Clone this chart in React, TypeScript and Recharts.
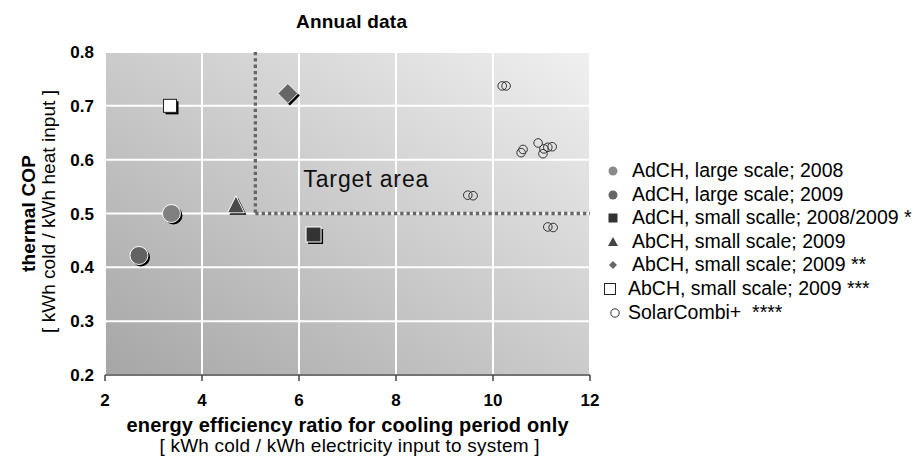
import React from 'react'
import { ScatterChart, Scatter, XAxis, YAxis, CartesianGrid, ReferenceLine, ReferenceArea, Legend, Label } from 'recharts'

const FONT = '"Liberation Sans", Arial, Helvetica, sans-serif'

const xTicks = [2, 4, 6, 8, 10, 12]
const yTicks = [0.2, 0.3, 0.4, 0.5, 0.6, 0.7, 0.8]

const seriesNames = [
  'AdCH, large scale; 2008',
  'AdCH, large scale; 2009',
  'AdCH, small scalle; 2008/2009 *',
  'AbCH, small scale; 2009',
  'AbCH, small scale; 2009 **',
  'AbCH, small scale; 2009 ***',
  'SolarCombi+  ****',
]

const adchLarge2008 = [{ x: 3.37, y: 0.5 }]
const adchLarge2009 = [{ x: 2.7, y: 0.422 }]
const adchSmall = [{ x: 6.3, y: 0.461 }]
const abchSmall2009 = [{ x: 4.7, y: 0.517 }]
const abchSmall2009b = [{ x: 5.77, y: 0.723 }]
const abchSmall2009c = [{ x: 3.34, y: 0.7 }]
const solarCombi = [
  { x: 10.19, y: 0.737 },
  { x: 10.27, y: 0.737 },
  { x: 10.58, y: 0.613 },
  { x: 10.62, y: 0.619 },
  { x: 10.93, y: 0.631 },
  { x: 11.05, y: 0.62 },
  { x: 11.03, y: 0.611 },
  { x: 11.13, y: 0.623 },
  { x: 11.22, y: 0.624 },
  { x: 9.48, y: 0.534 },
  { x: 9.59, y: 0.533 },
  { x: 11.13, y: 0.475 },
  { x: 11.24, y: 0.474 },
]

// target area corner
const targetX = 5.1
const targetY = 0.5

const circle = (fill: string, r: number) => (p: any) => (
  <g>
    <circle cx={p.cx + 2} cy={p.cy + 2} r={r} fill="#000" />
    <circle cx={p.cx} cy={p.cy} r={r} fill={fill} stroke="#fff" strokeWidth={1} />
  </g>
)

const square = (fill: string, stroke: string, s: number) => (p: any) => (
  <g>
    <rect x={p.cx - s / 2 + 2} y={p.cy - s / 2 + 2} width={s} height={s} fill="#000" />
    <rect x={p.cx - s / 2} y={p.cy - s / 2} width={s} height={s} fill={fill} stroke={stroke} strokeWidth={1} />
  </g>
)

const triangle = (fill: string, s: number) => (p: any) => {
  const pts = (dx: number, dy: number) =>
    `${p.cx + dx},${p.cy - s / 2 + dy} ${p.cx + s / 2 + dx},${p.cy + s / 2 + dy} ${p.cx - s / 2 + dx},${p.cy + s / 2 + dy}`
  return (
    <g>
      <polygon points={pts(2, 2)} fill="#000" />
      <polygon points={pts(0, 0)} fill={fill} stroke="#fff" strokeWidth={1} />
    </g>
  )
}

const diamond = (fill: string, h: number) => (p: any) => {
  const pts = (dx: number, dy: number) =>
    `${p.cx + dx},${p.cy - h + dy} ${p.cx + h + dx},${p.cy + dy} ${p.cx + dx},${p.cy + h + dy} ${p.cx - h + dx},${p.cy + dy}`
  return (
    <g>
      <polygon points={pts(2, 2)} fill="#000" />
      <polygon points={pts(0, 0)} fill={fill} stroke="#fff" strokeWidth={1} />
    </g>
  )
}

const openCircle = (p: any) => <circle cx={p.cx} cy={p.cy} r={4.3} fill="none" stroke="#333" strokeWidth={1} />

const legendIcons: Record<string, { w: number; icon: React.ReactNode }> = {
  [seriesNames[0]]: { w: 29, icon: <circle cx={10} cy={12} r={4.5} fill="#8a8a8a" /> },
  [seriesNames[1]]: { w: 29, icon: <circle cx={10} cy={12} r={4.5} fill="#666" /> },
  [seriesNames[2]]: { w: 29, icon: <rect x={5.5} y={7.5} width={9} height={9} fill="#333" /> },
  [seriesNames[3]]: { w: 29, icon: <polygon points="10,7 15,16 5,16" fill="#444" /> },
  [seriesNames[4]]: { w: 29, icon: <polygon points="10,8 14,12 10,16 6,12" fill="#666" /> },
  [seriesNames[5]]: { w: 25, icon: <rect x={1.5} y={6.5} width={11} height={11} fill="#fff" stroke="#222" strokeWidth={1} /> },
  [seriesNames[6]]: { w: 25, icon: <circle cx={12} cy={12} r={4.2} fill="#fff" stroke="#333" strokeWidth={1} /> },
}

function LegendBox({ payload }: any) {
  const items = [...(payload || [])].sort((a: any, b: any) => seriesNames.indexOf(a.value) - seriesNames.indexOf(b.value))
  return (
    <div style={{ fontFamily: FONT, fontSize: 19.5, color: '#000' }}>
      {items.map((e: any) => {
        const item = legendIcons[e.value]
        return (
          <div key={e.value} style={{ display: 'flex', alignItems: 'center', height: 23.6, lineHeight: '23.6px', whiteSpace: 'pre' }}>
            <svg width={item.w} height={23.6} style={{ flex: 'none' }}>
              {item.icon}
            </svg>
            <span>{e.value}</span>
          </div>
        )
      })}
    </div>
  )
}

const XTick = ({ x, y, payload }: any) => (
  <text x={x} y={y} dy="0.71em" textAnchor="middle" fontFamily={FONT} fontSize={17} fontWeight="bold" fill="#000">
    {payload.value}
  </text>
)

const YTick = ({ x, y, payload }: any) => (
  <text x={x} y={y} dy="0.355em" textAnchor="end" fontFamily={FONT} fontSize={17} fontWeight="bold" fill="#000">
    {Number(payload.value).toFixed(1)}
  </text>
)

const XTitle = ({ viewBox }: any) => {
  const cx = viewBox.x + viewBox.width / 2
  return (
    <g fontFamily={FONT} fill="#000">
      <text x={cx} y={viewBox.y + 57} textAnchor="middle" fontSize={20} fontWeight="bold" textLength={442} lengthAdjust="spacing">
        energy efficiency ratio for cooling period only
      </text>
      <text x={cx + 2} y={viewBox.y + 77} textAnchor="middle" fontSize={19} textLength={380} lengthAdjust="spacing">
        [ kWh cold / kWh electricity input to system ]
      </text>
    </g>
  )
}

const YTitle = ({ viewBox }: any) => {
  const cy = viewBox.y + viewBox.height / 2
  const x1 = viewBox.x - 10
  const x2 = viewBox.x + 10
  return (
    <g fontFamily={FONT} fill="#000">
      <text x={x1} y={cy} transform={`rotate(-90 ${x1} ${cy})`} textAnchor="middle" fontSize={19} fontWeight="bold" textLength={117} lengthAdjust="spacing">
        thermal COP
      </text>
      <text x={x2} y={cy - 2} transform={`rotate(-90 ${x2} ${cy - 2})`} textAnchor="middle" fontSize={19} textLength={243} lengthAdjust="spacing">
        [ kWh cold / kWh heat input ]
      </text>
    </g>
  )
}

const TargetLabel = ({ viewBox }: any) => (
  <text x={viewBox.x + 48} y={viewBox.y + 135} fontFamily={FONT} fontSize={23} fill="#111" textLength={125} lengthAdjust="spacing">
    Target area
  </text>
)

export default function App() {
  return (
    <div style={{ position: 'absolute', left: 0, top: 0, width: 915, height: 457, background: '#fff' }}>
      <ScatterChart width={915} height={457} margin={{ top: 52, right: 325, bottom: 42, left: 45 }}>
        <defs>
          <linearGradient id="plotBg" x1="0" y1="1" x2="1" y2="0">
            <stop offset="0%" stopColor="#a6a6a6" />
            <stop offset="100%" stopColor="#f0f0f0" />
          </linearGradient>
        </defs>
        <text x={351.5} y={28} textAnchor="middle" fontFamily={FONT} fontSize={19} fontWeight="bold" fill="#000" textLength={111} lengthAdjust="spacing">
          Annual data
        </text>
        <CartesianGrid fill="url(#plotBg)" stroke="#fff" strokeWidth={2} />
        <XAxis
          type="number"
          dataKey="x"
          domain={[2, 12]}
          ticks={xTicks}
          height={40}
          tickSize={6}
          tickMargin={13}
          axisLine={{ stroke: '#444', strokeWidth: 1.5 }}
          tickLine={{ stroke: '#444', strokeWidth: 1.5 }}
          tick={<XTick />}
          allowDataOverflow
        >
          <Label content={<XTitle />} />
        </XAxis>
        <YAxis
          type="number"
          dataKey="y"
          domain={[0.2, 0.8]}
          ticks={yTicks}
          width={60}
          tickSize={6}
          tickMargin={5}
          axisLine={false}
          tickLine={false}
          tick={<YTick />}
          allowDataOverflow
        >
          <Label content={<YTitle />} />
        </YAxis>
        <ReferenceArea x1={targetX} x2={12} y1={targetY} y2={0.8} fill="none" stroke="none" label={<TargetLabel />} />
        <ReferenceLine
          segment={[{ x: targetX, y: 0.8 }, { x: targetX, y: targetY }]}
          stroke="#666"
          strokeWidth={3.3}
          strokeDasharray="3.3 3"
        />
        <ReferenceLine
          segment={[{ x: targetX, y: targetY }, { x: 12, y: targetY }]}
          stroke="#666"
          strokeWidth={3.3}
          strokeDasharray="3.3 3"
        />
        <Legend
          layout="vertical"
          align="center"
          verticalAlign="middle"
          wrapperStyle={{ left: 603, top: 159, width: 312 }}
          content={<LegendBox />}
        />
        <Scatter name={seriesNames[0]} data={adchLarge2008} shape={circle('#808080', 9)} isAnimationActive={false} />
        <Scatter name={seriesNames[1]} data={adchLarge2009} shape={circle('#626262', 9)} isAnimationActive={false} />
        <Scatter name={seriesNames[2]} data={adchSmall} shape={square('#333', '#fff', 15)} isAnimationActive={false} />
        <Scatter name={seriesNames[3]} data={abchSmall2009} shape={triangle('#4a4a4a', 17)} isAnimationActive={false} />
        <Scatter name={seriesNames[4]} data={abchSmall2009b} shape={diamond('#666', 10)} isAnimationActive={false} />
        <Scatter name={seriesNames[5]} data={abchSmall2009c} shape={square('#fff', '#222', 13)} isAnimationActive={false} />
        <Scatter name={seriesNames[6]} data={solarCombi} shape={openCircle} isAnimationActive={false} />
      </ScatterChart>
    </div>
  )
}
